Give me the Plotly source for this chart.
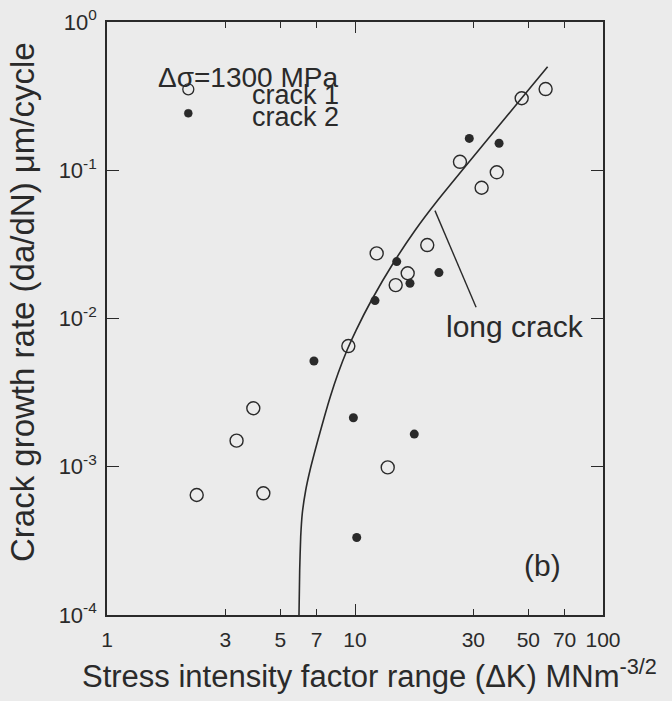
import plotly.graph_objects as go

# ---------------- data ----------------
crack1_dk = [2.30, 3.33, 3.89, 4.27, 9.40, 13.55, 12.23, 14.59, 16.31, 19.56, 26.5, 32.4, 37.3, 47.0, 58.7]
crack1_rate = [6.45e-4, 1.50e-3, 2.48e-3, 6.62e-4, 6.52e-3, 9.9e-4, 0.0275, 0.0168, 0.0202, 0.0313,
               0.114, 0.0762, 0.0969, 0.306, 0.353]

crack2_dk = [6.83, 9.85, 10.16, 12.04, 14.73, 16.66, 17.34, 21.8, 28.9, 38.1]
crack2_rate = [5.17e-3, 2.14e-3, 3.33e-4, 0.0132, 0.0242, 0.0173, 1.66e-3, 0.0204, 0.164, 0.152]

long_crack_dk = [5.945, 5.984, 6.04, 6.13, 6.33, 6.59, 7.087, 7.527, 7.95, 8.549, 9.293, 10.11,
                 11.67, 14.36, 17.51, 21.6, 59.8]
long_crack_rate = [1.0e-4, 2.01e-4, 3.37e-4, 4.85e-4, 6.97e-4, 9.51e-4, 1.515e-3, 2.176e-3, 2.969e-3,
                   4.27e-3, 6.13e-3, 8.36e-3, 0.01333, 0.02404, 0.03954, 0.0630, 0.4995]

pointer_dk = [21.01, 30.78]
pointer_rate = [0.0534, 0.0119]

x_tickvals = [1, 3, 5, 7, 10, 30, 50, 70, 100]
x_ticktext = ["1", "3", "5", "7", "10", "30", "50", "70", "100"]
x_decades = [1, 10, 100]
y_tickvals = [1e-4, 1e-3, 1e-2, 1e-1, 1]
y_ticktext = ["10<sup>-4</sup>", "10<sup>-3</sup>", "10<sup>-2</sup>", "10<sup>-1</sup>", "10<sup>0</sup>"]

# ---------------- styling ----------------
BG = "#ebebeb"
INK = "#2a2a2a"
FONT = "Liberation Sans, Arial, sans-serif"

W, H = 672, 701
ML, MR, MT, MB = 107, 69, 22, 86
PW, PH = W - ML - MR, H - MT - MB


def px(xp):
    return (xp - ML) / PW


def py(yp):
    return (H - MB - yp) / PH


fig = go.Figure()

fig.add_trace(go.Scatter(
    x=long_crack_dk, y=long_crack_rate, mode="lines",
    line=dict(color=INK, width=1.6, shape="spline", smoothing=0.5),
    showlegend=False, hoverinfo="skip", xaxis="x2", yaxis="y"))

fig.add_trace(go.Scatter(
    x=pointer_dk, y=pointer_rate, mode="lines",
    line=dict(color=INK, width=1.4), showlegend=False, hoverinfo="skip"))

fig.add_trace(go.Scatter(
    x=crack1_dk, y=crack1_rate, mode="markers", name="crack 1",
    marker=dict(symbol="circle-open", size=13, color=INK, line=dict(width=1.4, color=INK)),
    showlegend=False))

fig.add_trace(go.Scatter(
    x=crack2_dk, y=crack2_rate, mode="markers", name="crack 2",
    marker=dict(symbol="circle", size=9, color=INK, line=dict(width=0)),
    showlegend=False))

axis_common = dict(showgrid=False, zeroline=False, showline=True, linecolor=INK, linewidth=1.6,
                   ticks="inside", tickcolor=INK, tickwidth=1.4, mirror="ticks")

fig.update_layout(
    width=W, height=H,
    margin=dict(l=ML, r=MR, t=MT, b=MB, autoexpand=False),
    paper_bgcolor=BG, plot_bgcolor=BG,
    font=dict(family=FONT, color=INK),
    xaxis=dict(type="log", range=[0, 2], tickmode="array", tickvals=x_tickvals, ticktext=x_ticktext,
               ticklen=6, tickfont=dict(size=21, family=FONT, color=INK), ticklabelstandoff=5,
               **axis_common),
    xaxis2=dict(type="log", range=[0, 2], overlaying="x", anchor="y", side="bottom",
                tickmode="array", tickvals=x_decades, ticklen=11, showticklabels=False,
                **axis_common),
    yaxis=dict(type="log", range=[-4, 0], tickmode="array", tickvals=y_tickvals, ticktext=y_ticktext,
               ticklen=12, tickfont=dict(size=22, family=FONT, color=INK), ticklabelstandoff=4,
               **axis_common),
    showlegend=False,
)

ann_font = dict(family=FONT, color=INK)
annotations = [
    dict(text="Stress intensity factor range (\u0394K) MNm<sup>-3/2</sup>", x=px(369), y=py(674),
         xref="paper", yref="paper", xanchor="center", yanchor="middle", showarrow=False,
         font=dict(size=31, **ann_font)),
    dict(text="Crack growth rate (da/dN) \u03bcm/cycle", x=px(22), y=py(302), textangle=-90,
         xref="paper", yref="paper", xanchor="center", yanchor="middle", showarrow=False,
         font=dict(size=33, **ann_font)),
    dict(text="\u0394\u03c3=1300 MPa", x=px(156), y=py(77),
         xref="paper", yref="paper", xanchor="left", yanchor="middle", showarrow=False,
         font=dict(size=28, **ann_font)),
    dict(text="crack 1", x=px(250), y=py(95),
         xref="paper", yref="paper", xanchor="left", yanchor="middle", showarrow=False,
         font=dict(size=27, **ann_font)),
    dict(text="crack 2", x=px(250), y=py(117),
         xref="paper", yref="paper", xanchor="left", yanchor="middle", showarrow=False,
         font=dict(size=27, **ann_font)),
    dict(text="long crack", x=px(444), y=py(326),
         xref="paper", yref="paper", xanchor="left", yanchor="middle", showarrow=False,
         font=dict(size=30, **ann_font)),
    dict(text="(b)", x=px(542), y=py(565),
         xref="paper", yref="paper", xanchor="center", yanchor="middle", showarrow=False,
         font=dict(size=30, **ann_font)),
]
fig.update_layout(annotations=annotations)

# legend keys
fig.add_shape(type="circle", xref="paper", yref="paper", xsizemode="pixel", ysizemode="pixel",
              xanchor=px(188.3), yanchor=py(89.3), x0=-5.5, x1=5.5, y0=-5.5, y1=5.5,
              line=dict(color=INK, width=1.3), fillcolor="rgba(0,0,0,0)")
fig.add_shape(type="circle", xref="paper", yref="paper", xsizemode="pixel", ysizemode="pixel",
              xanchor=px(188.3), yanchor=py(113.3), x0=-4, x1=4, y0=-4, y1=4,
              line=dict(color=INK, width=0.5), fillcolor=INK)

page_fix = ("document.body.style.margin='0';document.body.style.padding='0';"
            "document.body.style.overflow='hidden';document.body.style.background='" + BG + "';")

fig.write_html("out.html", post_script=page_fix, config={"displayModeBar": False})
